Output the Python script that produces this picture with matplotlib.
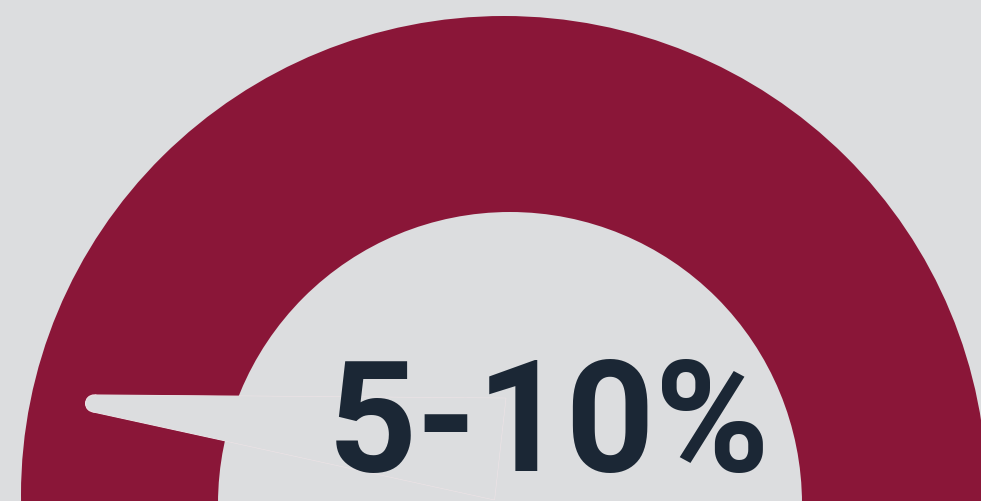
import numpy as np
import matplotlib
matplotlib.use("Agg")
import matplotlib.pyplot as plt
from matplotlib.patches import Ellipse, Polygon, Circle

# gauge content
label = "5-10%"
needle_angle = 173.6      # degrees, 180 = far left of the dial
needle_length = 417
needle_base_half = 51

bg = "#dcdddf"
maroon = "#8a1638"
ink = "#1b2735"

fig = plt.figure(figsize=(9.81, 5.01), dpi=100, facecolor=bg)
ax = fig.add_axes([0, 0, 1, 1])
ax.set_xlim(0, 981)
ax.set_ylim(501, 0)
ax.axis("off")
ax.set_facecolor(bg)

# dial ring: outer band then the inner face
ax.add_patch(Ellipse((504, 495), 2 * 483, 2 * 479, color=maroon, lw=0))
ax.add_patch(Ellipse((510, 504), 2 * 292, 2 * 292, color=bg, lw=0))

# needle, pivot near the dial centre
pivot = np.array([500.0, 449.0])
a = np.deg2rad(needle_angle)
d = np.array([np.cos(a), -np.sin(a)])
n = np.array([-d[1], d[0]])
tip = pivot + d * needle_length
tip_r = 8.5
ctr = tip - d * tip_r
pts = [ctr + n * tip_r, pivot + n * needle_base_half,
       pivot - n * needle_base_half, ctr - n * tip_r]
ax.add_patch(Polygon(pts, closed=True, facecolor=bg, edgecolor="#efe4e7", lw=0.8))
ax.add_patch(Circle(ctr, tip_r, facecolor=bg, edgecolor="#efe4e7", lw=0.8))
ax.add_patch(Polygon(pts, closed=True, facecolor=bg, lw=0))

ax.text(549, 471, label, ha="center", va="baseline", fontsize=112,
        fontweight="bold", family=["Roboto", "DejaVu Sans"], color=ink)

fig.savefig("out.png", dpi=100, facecolor=bg)
